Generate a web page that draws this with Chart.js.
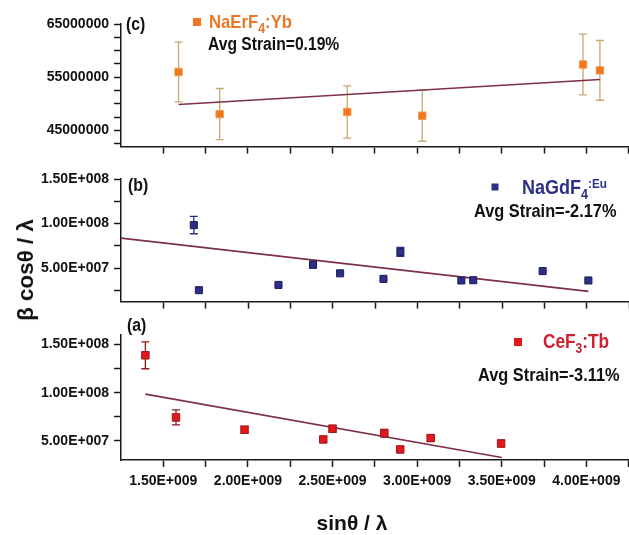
<!DOCTYPE html>
<html>
<head>
<meta charset="utf-8">
<script src="https://cdn.jsdelivr.net/npm/chart.js@4.4.1/dist/chart.umd.min.js"></script>
<style>
  html, body { margin:0; padding:0; background:#fff; }
  #wrap { position:relative; width:629px; height:535px; overflow:hidden; background:#fff; }
  canvas { position:absolute; left:0; }
  .title { position:absolute; font-family:'Liberation Sans Narrow','Arial Narrow','Liberation Sans',Arial,sans-serif; font-weight:bold; color:#111; white-space:nowrap; }
</style>
</head>
<body>
<div id="wrap">
  <canvas id="cC" width="635" height="160" style="top:0px"></canvas>
  <canvas id="cB" width="635" height="155" style="top:160px"></canvas>
  <canvas id="cA" width="635" height="225" style="top:310px"></canvas>
  <div class="title" id="ytitle" style="font-size:22px; left:-29px; top:257px; width:110px; text-align:center; transform:rotate(-90deg) scaleX(1.02);">β cosθ / λ</div>
  <div class="title" id="xtitle" style="font-size:21px; left:302px; top:511px; width:100px; text-align:center;">sinθ / λ</div>
</div>
<script>
// ---------- data ----------
// Panel (c) NaErF4:Yb
const xC   = [1.59e9, 1.833e9, 2.587e9, 3.03e9, 3.98e9, 4.08e9];
const yC   = [56.0e6, 48.1e6, 48.5e6, 47.8e6, 57.4e6, 56.3e6];
const errC = [5.6e6, 4.8e6, 4.9e6, 4.8e6, 5.7e6, 5.6e6];
const fitXC = [1.59e9, 4.08e9];
const fitYC = [49.9e6, 54.6e6];

// Panel (b) NaGdF4:Eu
const xB   = [1.68e9, 1.71e9, 2.18e9, 2.384e9, 2.544e9, 2.80e9, 2.90e9, 3.26e9, 3.33e9, 3.74e9, 4.01e9];
const yB   = [98.3e6, 25.3e6, 31.2e6, 54.0e6, 44.2e6, 38.0e6, 68.2e6, 36.2e6, 36.5e6, 46.7e6, 36.2e6];
const errB = [9.7e6, 0, 0, 4.0e6, 0, 0, 5.0e6, 0, 0, 0, 0];
const fitXB = [1.25e9, 4.01e9];
const fitYB = [83.7e6, 24.0e6];

// Panel (a) CeF3:Tb
const xA   = [1.394e9, 1.575e9, 1.98e9, 2.445e9, 2.50e9, 2.806e9, 2.90e9, 3.08e9, 3.496e9];
const yA   = [138.9e6, 74.3e6, 61.5e6, 51.4e6, 62.5e6, 57.9e6, 41.0e6, 52.8e6, 47.2e6];
const errA = [14.0e6, 7.8e6, 3.5e6, 3.0e6, 3.5e6, 4.0e6, 0, 3.5e6, 3.5e6];
const fitXA = [1.394e9, 3.50e9];
const fitYA = [98.5e6, 32.6e6];

// tick labels (major ticks)
const xMajorTicks = [1.5e9, 2.0e9, 2.5e9, 3.0e9, 3.5e9, 4.0e9];
const yMajorC = [45000000, 55000000, 65000000];
const yMajorB = [5e7, 1e8, 1.5e8];
const yMajorA = [5e7, 1e8, 1.5e8];

// ---------- helpers ----------
const FONT = "'Liberation Sans Narrow','Arial Narrow','Liberation Sans',Arial,sans-serif";
const AXIS = '#1a1a1a';

function fmtSci(v) {
  const e = Math.floor(Math.log10(v) + 1e-9);
  const m = v / Math.pow(10, e);
  return m.toFixed(2) + 'E+' + String(e).padStart(3, '0');
}
function isIn(list, v, tol) { return list.some(m => Math.abs(m - v) < tol); }
function genTicks(min, max, step) {
  const out = [];
  const start = Math.ceil(min / step - 1e-9);
  const end = Math.floor(max / step + 1e-9);
  for (let k = start; k <= end; k++) out.push({ value: k * step });
  return out;
}
function pts(xs, ys) { return xs.map((x, i) => ({ x: x, y: ys[i] })); }

const errPlugin = {
  id: 'errbars',
  beforeDatasetsDraw(chart, args, o) {
    if (!o || !o.xs) return;
    const { ctx } = chart;
    const sx = chart.scales.x, sy = chart.scales.y;
    ctx.save();
    ctx.strokeStyle = o.color;
    ctx.lineWidth = 1.3;
    o.xs.forEach((xv, i) => {
      const e = o.errs[i];
      if (!e) return;
      const px = sx.getPixelForValue(xv);
      const t = sy.getPixelForValue(o.ys[i] + e);
      const b = sy.getPixelForValue(o.ys[i] - e);
      ctx.beginPath();
      ctx.moveTo(px, t); ctx.lineTo(px, b);
      ctx.moveTo(px - 4, t); ctx.lineTo(px + 4, t);
      ctx.moveTo(px - 4, b); ctx.lineTo(px + 4, b);
      ctx.stroke();
    });
    ctx.restore();
  }
};

const annotPlugin = {
  id: 'annot',
  afterDraw(chart, args, o) {
    if (!o || !o.items) return;
    const ctx = chart.ctx;
    o.items.forEach(it => {
      ctx.save();
      if (it.square) {
        ctx.fillStyle = it.color;
        ctx.fillRect(it.x - it.s / 2, it.y - it.s / 2, it.s, it.s);
        ctx.restore();
        return;
      }
      ctx.translate(it.x, it.y);
      ctx.scale(it.sx || 1, 1);
      let x = 0;
      ctx.textBaseline = 'alphabetic';
      ctx.textAlign = 'left';
      it.parts.forEach(p => {
        ctx.font = 'bold ' + p.size + 'px ' + FONT;
        ctx.fillStyle = p.color || it.color;
        ctx.fillText(p.t, x, (p.dy || 0));
        x += ctx.measureText(p.t).width;
      });
      ctx.restore();
    });
  }
};

function makePanel(id, cfg) {
  const xScale = {
    type: 'linear', min: 1.25e9, max: 4.25e9,
    afterBuildTicks: s => { s.ticks = genTicks(1.25e9, 4.25e9, 0.25e9); },
    afterFit: s => { s.height = cfg.xHeight; },
    ticks: {
      display: cfg.xLabels, autoSkip: false, maxRotation: 0, minRotation: 0, padding: 6,
      font: { family: FONT, size: 14, weight: 'bold' }, color: '#111',
      callback: v => isIn(xMajorTicks, v, 1e3) ? fmtSci(v) : ''
    },
    grid: {
      drawOnChartArea: false, drawTicks: true, tickLength: 7, tickWidth: 1.5,
      tickColor: c => (c.tick && Math.abs(c.tick.value - 1.25e9) < 1e3) ? 'rgba(0,0,0,0)' : AXIS
    },
    border: { display: true, color: AXIS, width: 1.5 }
  };
  const yScale = {
    type: 'linear', min: cfg.yMin, max: cfg.yMax,
    afterBuildTicks: s => { s.ticks = genTicks(cfg.yMin, cfg.yMax, cfg.yStep); },
    afterFit: s => { s.width = 121; },
    ticks: {
      autoSkip: false, padding: 5,
      font: { family: FONT, size: 14, weight: 'bold' }, color: '#111',
      callback: v => isIn(cfg.yMajor, v, 1) ? cfg.fmt(v) : ''
    },
    grid: { drawOnChartArea: false, drawTicks: true, tickLength: 7, tickWidth: 1.5, tickColor: AXIS },
    border: { display: true, color: AXIS, width: 1.5 }
  };
  return new Chart(document.getElementById(id), {
    type: 'scatter',
    data: {
      datasets: [
        {
          type: 'scatter', data: pts(cfg.xs, cfg.ys), order: 0,
          pointStyle: 'rect', pointRadius: cfg.pr, borderWidth: 1,
          backgroundColor: cfg.fill, borderColor: cfg.edge
        },
        {
          type: 'line', data: pts(cfg.fx, cfg.fy), order: 1, showLine: true,
          pointRadius: 0, borderColor: '#7d3048', borderWidth: 1.6, fill: false, tension: 0
        }
      ]
    },
    options: {
      responsive: false, animation: false, events: [],
      layout: { padding: { top: cfg.padTop, right: 1, left: 0, bottom: 0 } },
      scales: { x: xScale, y: yScale },
      plugins: {
        legend: { display: false }, tooltip: { enabled: false },
        errbars: { xs: cfg.xs, ys: cfg.ys, errs: cfg.errs, color: cfg.errColor },
        annot: { items: cfg.annot }
      }
    },
    plugins: [errPlugin, annotPlugin]
  });
}

// Panel (c)
makePanel('cC', {
  xs: xC, ys: yC, errs: errC, fx: fitXC, fy: fitYC,
  yMin: 42e6, yMax: 65e6, yStep: 2.5e6, yMajor: yMajorC, fmt: v => String(Math.round(v)),
  padTop: 24, xHeight: 9, xLabels: false, pr: 5.3,
  fill: '#f47520', edge: '#e9a35a', errColor: '#c6aa72',
  annot: [
    { parts: [{ t: '(c)', size: 18 }], x: 126, y: 30, color: '#111', sx: 0.88 },
    { square: true, x: 197, y: 22, s: 8, color: '#f47520' },
    { parts: [{ t: 'NaErF', size: 19 }, { t: '4', size: 14, dy: 5 }, { t: ':Yb', size: 19 }], x: 209, y: 28, color: '#e8782a', sx: 0.88 },
    { parts: [{ t: 'Avg Strain=0.19%', size: 18 }], x: 208, y: 50, color: '#111', sx: 0.87 }
  ]
});

// Panel (b)
makePanel('cB', {
  xs: xB, ys: yB, errs: errB, fx: fitXB, fy: fitYB,
  yMin: 12.5e6, yMax: 150e6, yStep: 25e6, yMajor: yMajorB, fmt: fmtSci,
  padTop: 19, xHeight: 9, xLabels: false, pr: 5,
  fill: '#2d2f86', edge: '#1c1c5c', errColor: '#2d2f86',
  annot: [
    { parts: [{ t: '(b)', size: 18 }], x: 128, y: 31, color: '#111', sx: 0.88 },
    { square: true, x: 495, y: 27, s: 7, color: '#2d2f86' },
    { parts: [{ t: 'NaGdF', size: 20 }, { t: '4', size: 14, dy: 5 }, { t: ':Eu', size: 13, dy: -6 }], x: 522, y: 34, color: '#2d2f86', sx: 0.9 },
    { parts: [{ t: 'Avg Strain=-2.17%', size: 19 }], x: 474, y: 57, color: '#111', sx: 0.86 }
  ]
});

// Panel (a)
makePanel('cA', {
  xs: xA, ys: yA, errs: errA, fx: fitXA, fy: fitYA,
  yMin: 30e6, yMax: 160e6, yStep: 25e6, yMajor: yMajorA, fmt: fmtSci,
  padTop: 25, xHeight: 75, xLabels: true, pr: 5.3,
  fill: '#e3171c', edge: '#9a1b1f', errColor: '#8e1c1c',
  annot: [
    { parts: [{ t: '(a)', size: 18 }], x: 127, y: 21, color: '#111', sx: 0.88 },
    { square: true, x: 518, y: 32, s: 8, color: '#e3171c' },
    { parts: [{ t: 'CeF', size: 20 }, { t: '3', size: 14, dy: 5 }, { t: ':Tb', size: 20 }], x: 543, y: 38, color: '#cf2230', sx: 0.86 },
    { parts: [{ t: 'Avg Strain=-3.11%', size: 19 }], x: 478, y: 71, color: '#111', sx: 0.86 }
  ]
});
</script>
</body>
</html>
